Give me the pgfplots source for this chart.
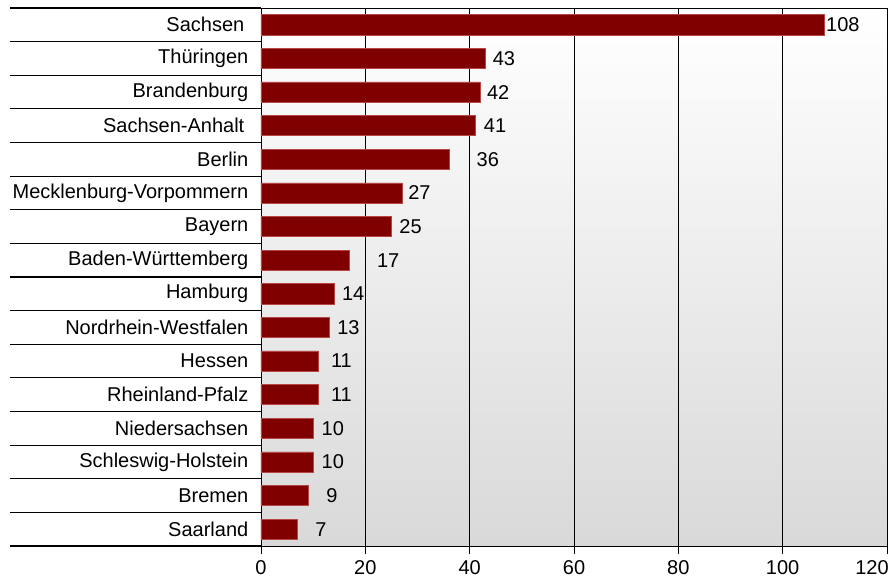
\documentclass[border=0pt]{standalone}
\usepackage{pgfplots}
\pgfplotsset{compat=1.18}
\usepackage{fontspec}
\setmainfont{Liberation Sans}
\definecolor{barfill}{RGB}{128,0,0}
\definecolor{baredge}{RGB}{180,70,70}
\begin{document}
\begin{tikzpicture}
\useasboundingbox (-261pt,-31pt) rectangle (629pt,546pt);
\begin{axis}[
  at={(0,0)}, anchor=south west,
  scale only axis,
  width=626pt, height=538pt,
  xmin=0, xmax=120, ymin=0.5, ymax=16.5,
  font=\fontsize{20}{23}\selectfont,
  /pgf/number format/assume math mode=true,
  axis background/.style={top color=white, bottom color={rgb,255:red,217;green,217;blue,217}},
  axis line style={black, line width=0.9pt},
  xtick={0,20,...,100},
  xtick pos=bottom, ytick pos=left,
  tick align=outside,
  major tick length=8pt,
  xtick style={black, line width=0.9pt},
  xmajorgrids,
  major grid style={black, line width=0.9pt},
  xticklabel style={inner sep=0pt, anchor=north, yshift=-6pt},
  extra x ticks={120},
  extra x tick style={xtick pos=bottom, xticklabel style={xshift=-15pt}},
  ytick={1,...,16},
  ytick style={draw=none},
  yticklabels={Saarland,Bremen,Schleswig-Holstein,Niedersachsen,Rheinland-Pfalz,Hessen,Nordrhein-Westfalen,Hamburg,Baden-Württemberg,Bayern,Mecklenburg-Vorpommern,Berlin,Sachsen-Anhalt\hspace*{4pt},Brandenburg,Thüringen,Sachsen\hspace*{4pt}},
  yticklabel style={anchor=east, inner sep=0pt, xshift=-4.5pt},
  extra y ticks={0.5,1.5,...,16.5},
  extra y tick labels={},
  extra y tick style={ytick pos=left, major tick length=251pt, tick align=outside, ytick style={draw=black, line width=1.2pt}},
]
\addplot[xbar, bar width=0.6, fill=barfill, draw=baredge, line width=0.6pt] coordinates {
(7,1) (9,2) (10,3) (10,4) (11,5) (11,6) (13,7) (14,8) (17,9) (25,10) (27,11) (36,12) (41,13) (42,14) (43,15) (108,16)
};
\addplot[only marks, mark=none, nodes near coords, point meta=explicit symbolic,
  every node near coord/.style={anchor=west, inner sep=0pt, black, font=\fontsize{20}{23}\selectfont}] coordinates {
(10.4,1)[7] (12.5,2)[9] (11.6,3)[10] (11.6,4)[10] (13.4,5)[11] (13.4,6)[11] (14.6,7)[13] (15.5,8)[14] (22.2,9)[17] (26.5,10)[25] (28.2,11)[27] (41.3,12)[36] (42.7,13)[41] (43.3,14)[42] (44.4,15)[43] (108.3,16)[108]
};
\end{axis}
\end{tikzpicture}
\end{document}
